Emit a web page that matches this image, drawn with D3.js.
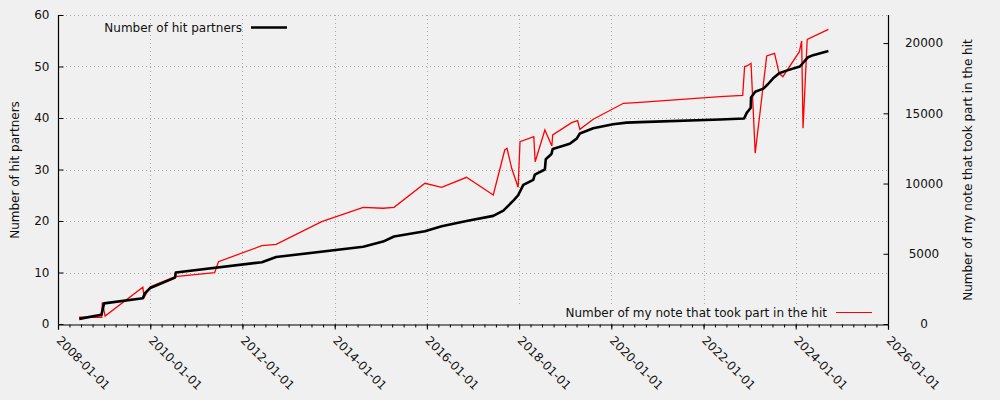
<!DOCTYPE html>
<html><head><meta charset="utf-8">
<script src="https://cdn.jsdelivr.net/npm/d3@7"></script>
<style>
html,body{margin:0;padding:0;background:#f0f0f0;}
text{font-family:"DejaVu Sans",sans-serif;font-size:12px;fill:#111;}
</style></head>
<body>
<svg id="c" width="1000" height="400"></svg>
<script>
const partnerDates = ["2008-06-17","2008-12-10","2008-12-31","2009-11-03","2009-11-20","2010-01-01","2010-07-16","2010-07-22","2012-06-03","2012-09-24","2014-08-15","2015-01-19","2015-04-16","2015-12-17","2016-04-27","2016-11-10","2017-06-10","2017-08-29","2017-10-08","2017-11-18","2017-12-24","2018-02-03","2018-04-23","2018-05-05","2018-07-24","2018-07-31","2018-09-14","2018-09-24","2019-02-06","2019-04-02","2019-04-27","2019-08-11","2020-01-15","2020-05-01","2020-08-15","2022-05-12","2022-11-18","2022-12-09","2023-01-10","2023-01-12","2023-02-14","2023-04-20","2023-05-27","2023-07-06","2023-08-23","2023-10-20","2024-02-03","2024-04-08","2024-05-18","2024-09-16"];
const partnerValues = [1,1.8,4,5,6,7,9,10,12,13,15,16,17,18,19,20,21,22,23,24,25,27,28,29,30,32,33,34,35,36,37,38,38.8,39.1,39.2,39.7,39.9,41,42,44,45.1,45.7,46.6,47.7,48.7,49.2,50,51.8,52.2,53];

const noteDates = ["2008-06-17","2008-12-13","2008-12-17","2009-01-08","2009-11-03","2009-11-14","2010-01-01","2010-07-16","2011-05-26","2011-06-25","2012-06-03","2012-09-24","2013-09-20","2014-08-15","2015-01-19","2015-04-16","2015-12-17","2016-04-27","2016-11-10","2017-06-10","2017-09-09","2017-09-27","2017-11-03","2017-12-24","2018-01-08","2018-04-27","2018-05-08","2018-07-24","2018-09-17","2018-09-24","2019-02-21","2019-04-09","2019-04-27","2019-08-11","2020-04-06","2020-08-15","2022-05-12","2022-11-07","2022-11-22","2022-12-13","2023-01-12","2023-02-14","2023-05-16","2023-07-17","2023-08-23","2023-09-21","2024-01-30","2024-02-17","2024-02-28","2024-04-01","2024-09-16"];
const noteValues = [480,480,1545,570,2613,1901,2659,3370,3655,4437,5575,5670,7285,8307,8240,8307,10018,9733,10445,9185,12389,12510,11086,9733,12980,13336,11556,13813,12674,13457,14333,14475,13862,14575,15714,15785,16184,16284,18320,18391,18561,12154,19082,19272,17850,17611,19390,20150,13933,20270,20982];

const leftTicks = [0,10,20,30,40,50,60];
const rightTicks = [0,5000,10000,15000,20000];
const xTickYears = ["2008-01-01","2010-01-01","2012-01-01","2014-01-01","2016-01-01","2018-01-01","2020-01-01","2022-01-01","2024-01-01","2026-01-01"];

const labelPartners = "Number of hit partners";
const labelNotes = "Number of my note that took part in the hit";

const L=58, R=888, T=15, B=324;
const parse = d3.utcParse("%Y-%m-%d");
const fmt = d3.utcFormat("%Y-%m-%d");
const x = d3.scaleUtc().domain([parse("2008-01-01"), parse("2026-01-01")]).range([L,R]);
const yL = d3.scaleLinear().domain([0,60]).range([B,T]);
const yR = d3.scaleLinear().domain([0,22000]).range([B,T]);

const svg = d3.select("#c");

// grid
const grid = svg.append("g").attr("stroke","#a8a8a8").attr("stroke-dasharray","1,3").attr("stroke-width",1);
xTickYears.map(parse).forEach(d=>{
  const px = Math.round(x(d))+0.5;
  if (px> L+2 && px < R-2) grid.append("line").attr("x1",px).attr("x2",px).attr("y1",T).attr("y2",B);
});
leftTicks.forEach(v=>{
  if (v===0) return;
  const py = Math.round(yL(v))+0.5;
  grid.append("line").attr("x1",L).attr("x2",R).attr("y1",py).attr("y2",py);
});

// legend 2 background box (hides grid)
svg.append("rect").attr("x",505).attr("y",304).attr("width",378).attr("height",18).attr("fill","#f0f0f0");

// lines
const partners = partnerDates.map((d,i)=>({d:parse(d),v:partnerValues[i]}));
const notes = noteDates.map((d,i)=>({d:parse(d),v:noteValues[i]}));
svg.append("path").datum(notes).attr("fill","none").attr("stroke","#ff0000").attr("stroke-width",1.3)
  .attr("stroke-linejoin","miter")
  .attr("d", d3.line().x(d=>x(d.d)).y(d=>yR(d.v)));
svg.append("path").datum(partners).attr("fill","none").attr("stroke","#000").attr("stroke-width",2.6)
  .attr("stroke-linejoin","round")
  .attr("d", d3.line().x(d=>x(d.d)).y(d=>yL(d.v)));

// axes
const xAxis = svg.append("g").attr("transform",`translate(0,${B+0.5})`)
  .call(d3.axisBottom(x).tickValues(xTickYears.map(parse)).tickSize(5).tickFormat(""));
const minor = svg.append("g").attr("transform",`translate(0,${B+0.5})`)
  .call(d3.axisBottom(x).ticks(d3.utcMonth.every(3)).tickSize(3).tickFormat(""));
minor.select(".domain").remove();
xAxis.selectAll("text").remove();
const xl = svg.append("g");
xTickYears.forEach(s=>{
  const d = parse(s);
  xl.append("text").attr("transform",`translate(${x(d)+4},335) rotate(45)`)
    .attr("dy","0.75em").attr("text-anchor","start").text(fmt(d));
});

const yAxL = svg.append("g").attr("transform",`translate(${L+0.5},0)`)
  .call(d3.axisRight(yL).tickValues(leftTicks).tickSize(5).tickFormat(""));
yAxL.select(".domain").attr("d",`M0,${T}V${B}`);
leftTicks.forEach(v=>{
  svg.append("text").attr("x",49.5).attr("y",yL(v)).attr("dy","0.36em").attr("text-anchor","end").text(v);
});
const yAxR = svg.append("g").attr("transform",`translate(${R+0.5},0)`)
  .call(d3.axisLeft(yR).tickValues(rightTicks).tickSize(5).tickFormat(""));
yAxR.select(".domain").attr("d",`M0,${T}V${B}`);
rightTicks.forEach(v=>{
  svg.append("text").attr("x",924).attr("y",yR(v)).attr("dy","0.36em").attr("text-anchor","middle").text(v);
});
svg.selectAll(".domain").attr("stroke","#000").attr("stroke-width",1.2);
svg.selectAll(".tick line").attr("stroke","#000");

// axis titles
svg.append("text").attr("transform","translate(15,170) rotate(-90)").attr("text-anchor","middle").attr("dy","0.36em").text(labelPartners);
svg.append("text").attr("transform","translate(968,170) rotate(-90)").attr("text-anchor","middle").attr("dy","0.36em").text(labelNotes);

// legends
svg.append("text").attr("x",242).attr("y",28).attr("dy","0.36em").attr("text-anchor","end").text(labelPartners);
svg.append("line").attr("x1",251).attr("x2",287).attr("y1",27.5).attr("y2",27.5).attr("stroke","#000").attr("stroke-width",2.6);
svg.append("text").attr("x",827).attr("y",312.5).attr("dy","0.36em").attr("text-anchor","end").text(labelNotes);
svg.append("line").attr("x1",836).attr("x2",872).attr("y1",312.5).attr("y2",312.5).attr("stroke","#ff0000").attr("stroke-width",1.2);
</script>
</body></html>
